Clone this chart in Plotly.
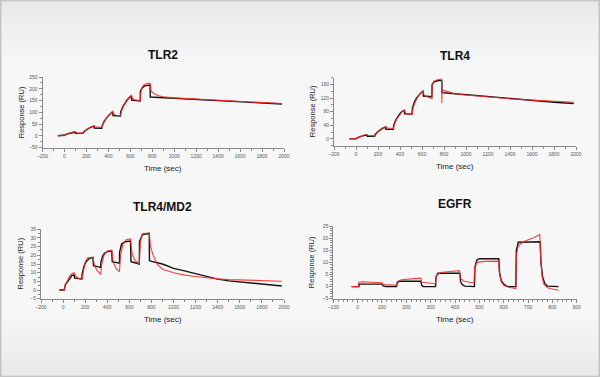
import plotly.graph_objects as go

# ---------------- data ----------------
tlr2_black_t = [-60, 0, 5, 20, 40, 60, 80, 100, 102, 170, 172, 190, 210, 230, 250, 270, 272, 340, 342, 360, 380, 400, 420, 440, 442, 510, 512, 530, 550, 570, 590, 610, 612, 690, 692, 710, 730, 760, 780, 782, 900, 1000, 1200, 1400, 1600, 1800, 1980]
tlr2_black_v = [0, 0, 3, 7, 10, 12, 14, 15, 10, 10, 14, 22, 29, 34, 38, 41, 33, 32, 40, 60, 74, 86, 95, 102, 86, 84, 100, 122, 138, 152, 162, 170, 152, 148, 190, 205, 212, 215, 216, 165, 162, 160, 155, 150, 145, 140, 135]
tlr2_red_t = [-60, 0, 10, 30, 60, 90, 100, 110, 130, 170, 180, 200, 230, 260, 270, 280, 300, 340, 350, 370, 400, 420, 440, 450, 470, 510, 520, 540, 570, 590, 610, 620, 640, 690, 700, 720, 750, 780, 790, 820, 860, 900, 1000, 1200, 1400, 1600, 1800, 1980]
tlr2_red_v = [0, 0, 5, 10, 14, 17, 17, 13, 11, 11, 17, 26, 35, 41, 43, 38, 36, 35, 48, 66, 86, 96, 104, 92, 87, 86, 105, 128, 152, 164, 172, 158, 152, 150, 198, 215, 222, 223, 190, 178, 170, 166, 161, 156, 150, 146, 142, 137]

tlr4_black_t = [-60, 0, 10, 30, 60, 100, 102, 170, 172, 190, 210, 240, 270, 272, 340, 342, 360, 380, 400, 420, 440, 442, 510, 512, 530, 550, 570, 590, 610, 612, 690, 692, 710, 740, 780, 782, 900, 1000, 1200, 1400, 1600, 1800, 1980]
tlr4_black_v = [0, 0, 3, 6, 9, 11, 8, 8, 12, 19, 25, 31, 35, 28, 28, 40, 55, 66, 75, 81, 84, 74, 73, 90, 108, 120, 130, 136, 140, 126, 124, 160, 168, 171, 172, 136, 133, 130, 124, 118, 113, 108, 104]
tlr4_red_t = [-60, 0, 20, 50, 80, 100, 110, 170, 180, 210, 240, 270, 280, 300, 340, 350, 370, 400, 420, 440, 450, 480, 510, 520, 540, 570, 590, 610, 620, 650, 690, 692, 710, 740, 778, 780, 782, 800, 850, 900, 1000, 1200, 1400, 1600, 1800, 1980]
tlr4_red_v = [0, 0, 5, 9, 12, 12, 10, 9, 14, 25, 32, 36, 33, 31, 31, 44, 58, 73, 80, 84, 76, 72, 72, 92, 110, 128, 136, 141, 128, 124, 118, 160, 170, 174, 176, 105, 145, 142, 137, 133, 129, 123, 118, 114, 111, 108]

md2_black_t = [-35, 10, 20, 40, 60, 80, 100, 105, 170, 172, 190, 210, 240, 270, 275, 340, 342, 360, 380, 410, 440, 445, 510, 512, 530, 560, 610, 615, 690, 692, 720, 780, 782, 800, 900, 1000, 1100, 1200, 1300, 1400, 1500, 1600, 1700, 1800, 1900, 1980]
md2_black_v = [0, 0, 3, 5, 7, 8.3, 8.8, 6.8, 6.4, 9, 14, 16.5, 18.3, 18.7, 14, 13, 16, 20, 21.5, 22.3, 22.5, 16.3, 15.5, 22, 26.5, 27.8, 28.2, 16.3, 15, 28, 32, 32.5, 17, 16.5, 15, 12.5, 11, 9.3, 7.8, 6.3, 5.3, 4.6, 4, 3.4, 2.8, 2.3]
md2_red_t = [-35, 10, 20, 40, 60, 80, 100, 110, 130, 170, 180, 200, 220, 250, 270, 285, 310, 340, 350, 370, 400, 440, 455, 480, 510, 520, 540, 570, 610, 625, 650, 690, 700, 720, 780, 790, 810, 850, 900, 1000, 1100, 1200, 1300, 1400, 1500, 1600, 1700, 1800, 1900, 1980]
md2_red_v = [0, 0, 3, 6, 8, 9.5, 10, 8.5, 7, 6, 10, 16, 18.5, 19, 19, 14, 11, 9, 15, 20, 22.5, 23, 16, 12.5, 10.5, 20, 26, 29, 29.5, 21, 17, 15, 28, 32.5, 33, 26, 21, 15, 12, 10, 8.6, 7.8, 7, 6.4, 6, 5.8, 5.6, 5.4, 5.2, 5.1]

egfr_black_t = [-25, 5, 7, 100, 105, 115, 160, 162, 170, 260, 263, 270, 320, 322, 330, 420, 423, 430, 440, 480, 482, 490, 500, 580, 583, 590, 600, 610, 620, 650, 652, 660, 750, 753, 760, 770, 780, 825]
egfr_black_v = [0, 0, 1, 1, 0.3, 0, 0, 1.5, 2.2, 2.2, 0.5, 0, 0, 4, 5.5, 5.5, 2, 0.8, 0.2, 0, 8, 11, 11.5, 11.5, 6, 2.5, 1, 0.3, 0, 0, 15, 18.3, 18.5, 10, 4, 1, 0.2, 0]
egfr_red_t = [-25, 3, 5, 20, 60, 100, 105, 130, 160, 163, 180, 220, 260, 263, 290, 320, 323, 340, 380, 418, 422, 435, 460, 478, 481, 490, 520, 579, 583, 590, 600, 620, 650, 652, 660, 680, 720, 748, 752, 758, 765, 780, 800, 825]
egfr_red_v = [0, 0, 1.8, 2, 1.8, 1.6, 0.8, 0.6, 0.5, 2, 2.8, 3.2, 3.5, 1.8, 1.4, 1.2, 4.5, 5.8, 6.2, 6.6, 3.5, 2.3, 1.8, 1.5, 8, 10, 10.4, 10.5, 5, 2, 0.5, -0.3, -0.8, 13, 16.8, 18.5, 20, 21.5, 12, 4, 1, -0.5, -1, -1.5]

panel_titles = ["TLR2", "TLR4", "TLR4/MD2", "EGFR"]
x_title = "Time (sec)"
y_title = "Response (RU)"

# ---------------- figure ----------------
W, H = 600, 377
def px(x):
    return x / W
def py(y):
    return 1 - y / H

FONT = "Arial, 'Liberation Sans', sans-serif"
BLACK = "#111111"
RED = "#ff2a2a"

panels = [
    (tlr2_black_t, tlr2_black_v, tlr2_red_t, tlr2_red_v, (42.5, 284), (77, 147.5), [-200, 2000], [-50, 250], 200, 100, 50, 25),
    (tlr4_black_t, tlr4_black_v, tlr4_red_t, tlr4_red_v, (334, 576), (77.7, 145.7), [-200, 2000], [-20, 180], 200, 100, 40, 20),
    (md2_black_t, md2_black_v, md2_red_t, md2_red_v, (41, 284), (229.3, 298.7), [-200, 2000], [-5, 35], 200, 100, 5, 2.5),
    (egfr_black_t, egfr_black_v, egfr_red_t, egfr_red_v, (333.3, 576.7), (226, 298.7), [-100, 900], [-5, 25], 100, 20, 5, 1),
]

fig = go.Figure()
layout = dict(
    width=W, height=H, margin=dict(l=0, r=0, t=0, b=0, pad=0, autoexpand=False),
    paper_bgcolor="#f7f7f7", plot_bgcolor="rgba(0,0,0,0)",
    showlegend=False, font=dict(family=FONT),
)

annotations = []
for i, (bt, bv, rt, rv, xd, yd, xr, yr, xdt, xmn, ydt, ymn) in enumerate(panels):
    n = i + 1
    xa = "x" if n == 1 else f"x{n}"
    ya = "y" if n == 1 else f"y{n}"
    fig.add_trace(go.Scatter(x=bt, y=bv, mode="lines", line=dict(color=BLACK, width=1.4), xaxis=xa, yaxis=ya))
    fig.add_trace(go.Scatter(x=rt, y=rv, mode="lines", line=dict(color=RED, width=1.1), opacity=0.9, xaxis=xa, yaxis=ya))
    axis_common = dict(showgrid=False, zeroline=False, showline=True, linecolor="#8a8a8a", linewidth=1,
                       ticks="outside", ticklen=3, tickcolor="#8a8a8a", tickwidth=1, automargin=False,
                       tickfont=dict(size=5, color="#555555", family=FONT))
    layout["xaxis" if n == 1 else f"xaxis{n}"] = dict(
        axis_common, domain=[px(xd[0]), px(xd[1])], range=xr, dtick=xdt, tick0=0,
        anchor=ya, minor=dict(dtick=xmn, ticks="outside", ticklen=2, tickcolor="#8a8a8a"))
    layout["yaxis" if n == 1 else f"yaxis{n}"] = dict(
        axis_common, domain=[py(yd[1]), py(yd[0])], range=yr, dtick=ydt, tick0=0,
        anchor=xa, minor=dict(dtick=ymn, ticks="outside", ticklen=2, tickcolor="#8a8a8a"))
    cx = (xd[0] + xd[1]) / 2
    annotations.append(dict(text=f"<b>{panel_titles[i]}</b>", x=px(cx), y=py(yd[0] - 22), xref="paper", yref="paper",
                            showarrow=False, font=dict(size=12, color="#111111", family=FONT), xanchor="center", yanchor="middle"))
    annotations.append(dict(text=x_title, x=px(cx), y=py(yd[1] + 20.5), xref="paper", yref="paper",
                            showarrow=False, font=dict(size=8, color="#222222", family=FONT), xanchor="center", yanchor="middle"))
    annotations.append(dict(text=y_title, x=px(xd[0] - 21.5), y=py((yd[0] + yd[1]) / 2), xref="paper", yref="paper",
                            showarrow=False, textangle=-90, font=dict(size=7.5, color="#222222", family=FONT),
                            xanchor="center", yanchor="middle"))

shapes = []
def hexmix(a, b, t):
    return "#%02x%02x%02x" % tuple(int(round(a + (b - a) * t)) for _ in range(3))
steps = 16
for k in range(steps):
    t = k / (steps - 1)
    c = hexmix(0xe9, 0xf7, t)
    y0 = 2 + k * 4
    shapes.append(dict(type="rect", xref="paper", yref="paper", x0=0, x1=1, y0=py(y0), y1=py(y0 + 4),
                       fillcolor=c, line=dict(width=0), layer="below"))
    y0b = H - 2 - (k + 1) * 4
    shapes.append(dict(type="rect", xref="paper", yref="paper", x0=0, x1=1, y0=py(y0b), y1=py(y0b + 4),
                       fillcolor=c, line=dict(width=0), layer="below"))
shapes.append(dict(type="rect", xref="paper", yref="paper", x0=px(0.75), x1=px(W - 0.75), y0=py(H - 0.75), y1=py(0.75),
                   line=dict(color="#c4c4c4", width=1.5), fillcolor="rgba(0,0,0,0)", layer="below"))

layout["annotations"] = annotations
layout["shapes"] = shapes
fig.update_layout(**layout)
fig.write_html("out.html", config={"displayModeBar": False},
               post_script="document.body.style.margin='0';document.body.style.overflow='hidden';")
